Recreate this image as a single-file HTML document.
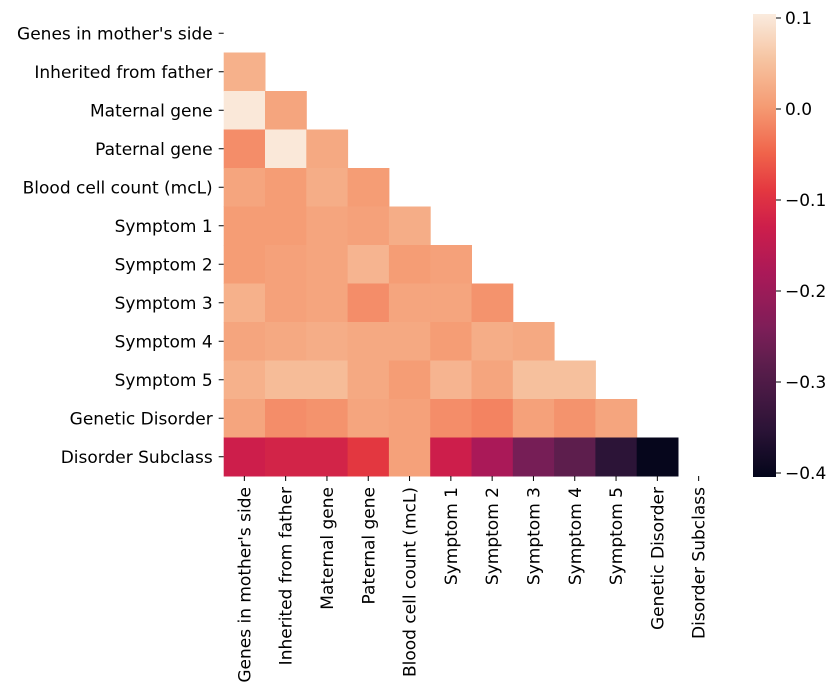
<!DOCTYPE html>
<html><head><meta charset="utf-8"><style>
html,body{margin:0;padding:0;background:#fff;}
svg{display:block;font-family:"DejaVu Sans","Liberation Sans",sans-serif;}
</style></head><body>
<svg id="chart" width="837" height="697"></svg>
<script>
const labels = ["Genes in mother's side","Inherited from father","Maternal gene","Paternal gene","Blood cell count (mcL)","Symptom 1","Symptom 2","Symptom 3","Symptom 4","Symptom 5","Genetic Disorder","Disorder Subclass"];
const row1 = [0.03];
const row2 = [0.10, 0.015];
const row3 = [-0.01, 0.10, 0.02];
const row4 = [0.015, 0.005, 0.025, 0.005];
const row5 = [0.005, 0.005, 0.015, 0.01, 0.025];
const row6 = [0.005, 0.01, 0.015, 0.035, 0.005, 0.01];
const row7 = [0.03, 0.01, 0.015, -0.01, 0.015, 0.015, -0.005];
const row8 = [0.015, 0.02, 0.025, 0.02, 0.02, 0.005, 0.025, 0.02];
const row9 = [0.03, 0.045, 0.045, 0.02, 0.005, 0.035, 0.015, 0.05, 0.05];
const row10 = [0.015, -0.01, -0.005, 0.015, 0.01, -0.01, -0.02, 0.01, -0.005, 0.015];
const row11 = [-0.13, -0.12, -0.12, -0.09, 0.01, -0.13, -0.18, -0.25, -0.28, -0.35, -0.40];
const rows = [[], row1,row2,row3,row4,row5,row6,row7,row8,row9,row10,row11];
const cbTicks = [0.1, 0.0, -0.1, -0.2, -0.3, -0.4];
const cbLabels = ["0.1","0.0","\u22120.1","\u22120.2","\u22120.3","\u22120.4"];
const vmin = -0.4044, vmax = 0.1044;

const stops = [[0,[3,5,26]],[0.1,[42,19,54]],[0.25,[95,30,78]],[0.32,[125,30,88]],[0.44,[170,25,88]],[0.54,[205,30,75]],[0.62,[228,56,64]],[0.7,[240,100,75]],[0.8,[245,155,115]],[0.9,[246,195,160]],[1,[250,235,222]]];
function cmap(v){
  let f=(v-vmin)/(vmax-vmin); f=Math.max(0,Math.min(1,f));
  for(let i=1;i<stops.length;i++){ if(f<=stops[i][0]){ const a=stops[i-1],b=stops[i]; const t=(f-a[0])/(b[0]-a[0]); const c=a[1].map((x,k)=>Math.round(x+(b[1][k]-x)*t)); return `rgb(${c.join(',')})`; } }
  return 'rgb(250,235,222)';
}
const NS="http://www.w3.org/2000/svg";
const svg=document.getElementById('chart');
function mk(t,a,p){const e=document.createElementNS(NS,t);for(const k in a)e.setAttribute(k,a[k]);(p||svg).appendChild(e);return e;}
const gx0=223.7, gy0=14, cw=41.3, ch=38.5, FS=17;
const xS=i=>gx0+i*cw, yS=i=>gy0+i*ch;
const cells=mk('g',{});


rows.forEach((r,i)=>r.forEach((v,j)=>{
  const c=mk('rect',{x:xS(j),y:yS(i),width:cw+0.5,height:ch+0.5,fill:cmap(v)},cells);
  
  
}));
labels.forEach((l,i)=>{
  const y=yS(i)+ch/2;
  mk('line',{x1:gx0-5,x2:gx0,y1:y,y2:y,stroke:'#000','stroke-width':1});
  const t=mk('text',{x:gx0-11,y:y+6,'text-anchor':'end','font-size':FS,fill:'#000'});
  t.textContent=l;
  
  
  const x=xS(i)+cw/2;
  mk('line',{x1:x,x2:x,y1:yS(12),y2:yS(12)+5,stroke:'#000','stroke-width':1});
  const u=mk('text',{x:0,y:0,'text-anchor':'end','font-size':FS,fill:'#000',transform:`translate(${x+6},${yS(12)+11}) rotate(-90)`});
  u.textContent=l;
  
  
});
const cbx=753, cbw=23, cby0=14, cby1=477;
const defs=mk('defs',{});
const lg=mk('linearGradient',{id:'cbg',x1:0,y1:1,x2:0,y2:0},defs);
for(let k=0;k<=50;k++){const v=vmin+(vmax-vmin)*k/50; mk('stop',{offset:k/50,'stop-color':cmap(v)},lg);}
const cb=mk('rect',{x:cbx,y:cby0,width:cbw,height:cby1-cby0,fill:'url(#cbg)'});


const cy=v=>cby1-(v-vmin)/(vmax-vmin)*(cby1-cby0);
cbTicks.forEach((v,i)=>{
  const y=cy(v);
  mk('line',{x1:cbx+cbw,x2:cbx+cbw+5,y1:y,y2:y,stroke:'#000','stroke-width':1});
  const t=mk('text',{x:cbx+cbw+9,y:y+6,'font-size':FS,fill:'#000'});
  t.textContent=cbLabels[i];
  
  
});
</script>
</body></html>
